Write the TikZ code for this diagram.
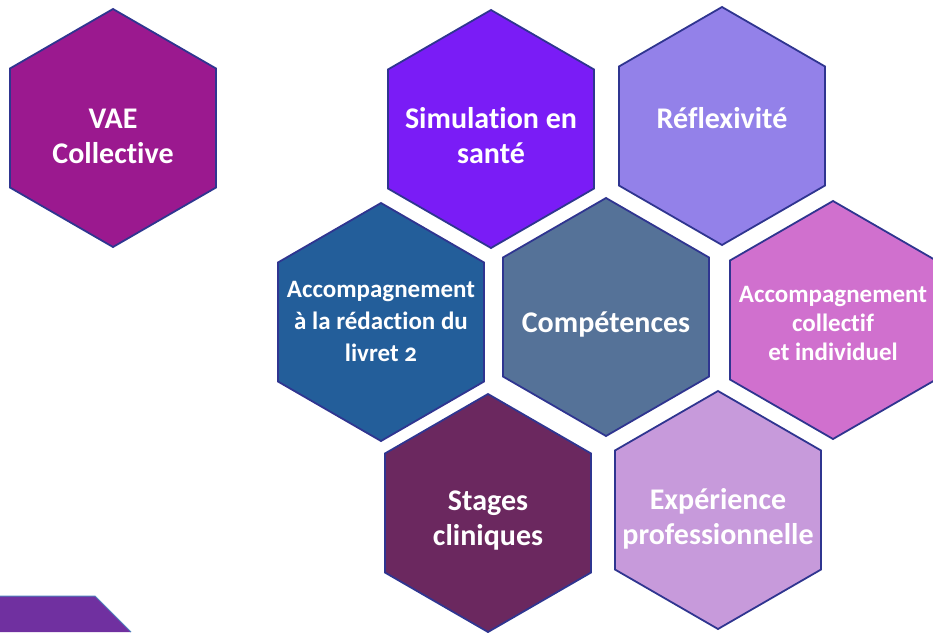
\documentclass[tikz,border=0pt]{standalone}
\usepackage{fontspec}
\setmainfont{Carlito}[Ligatures={NoCommon}, Numbers=OldStyle]
\usetikzlibrary{shapes.geometric}
\definecolor{hexborder}{HTML}{2F3590}
\definecolor{cvae}{HTML}{9B198F}
\definecolor{csim}{HTML}{7A1CF6}
\definecolor{crefl}{HTML}{9381E9}
\definecolor{cliv}{HTML}{235E9A}
\definecolor{ccomp}{HTML}{557298}
\definecolor{ccoll}{HTML}{D070CE}
\definecolor{cstage}{HTML}{6B285F}
\definecolor{cexp}{HTML}{C79ADB}
\definecolor{cbl}{HTML}{7030A0}
\definecolor{cblline}{HTML}{4F81BD}
\tikzset{
  hexa/.style={regular polygon, regular polygon sides=6, shape border rotate=90,
    minimum size=238pt, inner sep=0pt, outer sep=0pt, draw=hexborder, line width=1.8pt},
  hexlabel/.style={text=white, font=\bfseries\fontsize{30}{35}\selectfont,
    align=center, anchor=base, inner sep=0pt},
  hexsmall/.style={hexlabel, font=\bfseries\fontsize{25}{32}\selectfont},
}
\begin{document}
\begin{tikzpicture}[x=1pt,y=-1pt]
\useasboundingbox (0,0) rectangle (933,632);
\clip (0,0) rectangle (933,632);
% bottom-left partial shape
\fill[cbl] (0,596) -- (95,596) -- (131,632) -- (0,632) -- cycle;
\draw[cblline, line width=1pt] (0,596) -- (95,596) -- (131,632);
% hexagons
\node[hexa, fill=cvae]   (vae)   at (113,128) {};
\node[hexa, fill=csim]   (sim)   at (491,129) {};
\node[hexa, fill=crefl]  (refl)  at (722,126) {};
\node[hexa, fill=cliv]   (liv)   at (381,322) {};
\node[hexa, fill=ccomp]  (comp)  at (606,317) {};
\node[hexa, fill=ccoll]  (coll)  at (833,320) {};
\node[hexa, fill=cstage] (stage) at (488,513) {};
\node[hexa, fill=cexp]   (exp)   at (718,510) {};
% labels (anchor base = baseline of the last line)
\node[hexlabel] (tvae)   at (113,163) {VAE\\Collective};
\node[hexlabel] (tsim)   at (491,163) {Simulation en\\santé};
\node[hexlabel] (trefl)  at (722,128) {Réflexivité};
\node[hexsmall] (tliv)   at (381,361) {Accompagnement\\à la rédaction du\\livret 2};
\node[hexlabel] (tcomp)  at (606,332) {Compétences};
\node[hexsmall, font=\bfseries\fontsize{25}{29}\selectfont] (tcoll) at (833,360) {Accompagnement\\collectif\\et individuel};
\node[hexlabel] (tstage) at (488,545) {Stages\\cliniques};
\node[hexlabel] (texp)   at (718,544) {Expérience\\professionnelle};
\end{tikzpicture}
\end{document}
